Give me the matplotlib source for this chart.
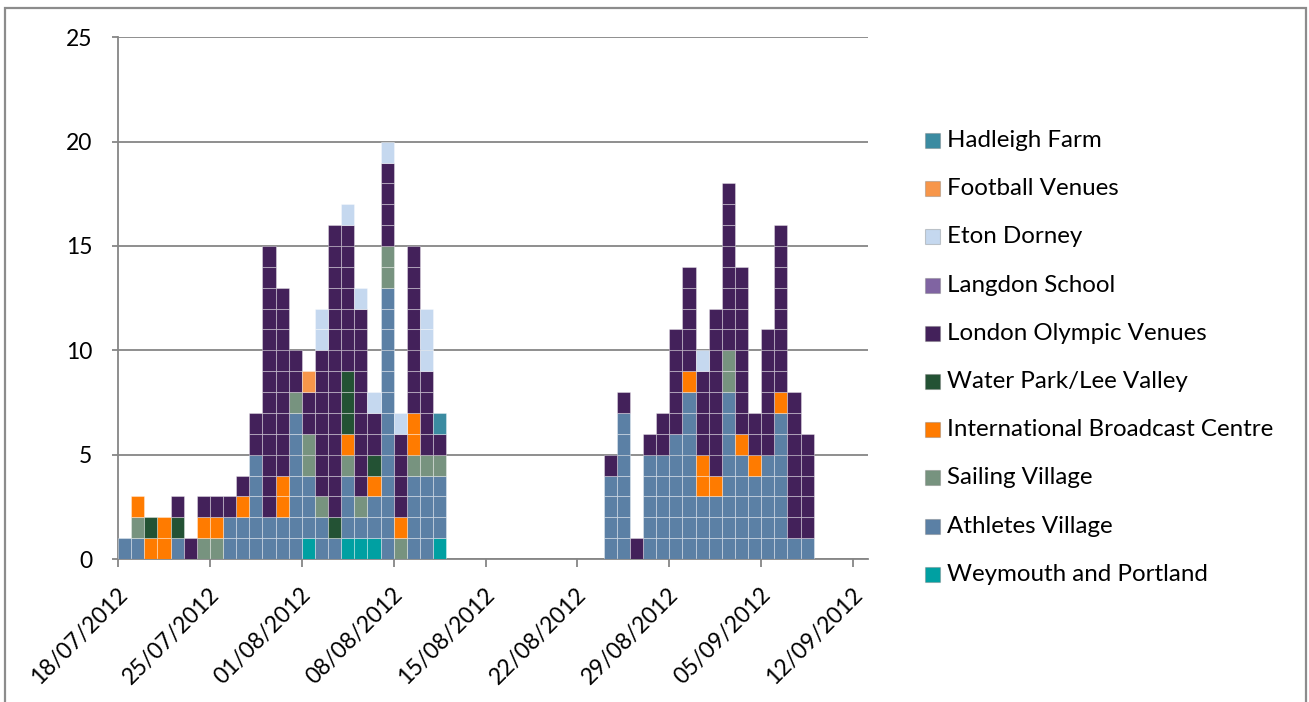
import numpy as np
import matplotlib
matplotlib.use("Agg")
import matplotlib.pyplot as plt
from matplotlib.patches import Rectangle
from matplotlib.transforms import ScaledTranslation

plt.rcParams['font.family'] = ['Lato', 'DejaVu Sans']

# daily incident counts, 18/07/2012 .. 09/09/2012 (53 days)
gap = [0] * 12
weymouth = [0, 0, 0, 0, 0, 0, 0, 0, 0, 0, 0, 0, 0, 0, 1, 0, 0, 1, 1, 1, 0, 0, 0, 0, 1] + gap + [0] * 16
athletes = [1, 1, 0, 0, 1, 0, 0, 0, 2, 2, 5, 2, 2, 7, 3, 2, 1, 3, 1, 2, 13, 0, 4, 4, 3] + gap + \
           [4, 7, 0, 5, 5, 6, 8, 3, 3, 8, 5, 4, 5, 7, 1, 1]
sailing = [0, 1, 0, 0, 0, 0, 1, 1, 0, 0, 0, 0, 0, 1, 2, 1, 0, 1, 1, 0, 2, 1, 1, 1, 1] + gap + \
          [0, 0, 0, 0, 0, 0, 0, 0, 0, 2, 0, 0, 0, 0, 0, 0]
ibc = [0, 1, 1, 2, 0, 0, 1, 1, 0, 1, 0, 0, 2, 0, 0, 0, 0, 1, 0, 1, 0, 1, 2, 0, 0] + gap + \
      [0, 0, 0, 0, 0, 0, 1, 2, 1, 0, 1, 1, 0, 1, 0, 0]
water_park = [0, 0, 1, 0, 1, 0, 0, 0, 0, 0, 0, 0, 0, 0, 0, 0, 1, 3, 0, 1, 0, 0, 0, 0, 0] + gap + [0] * 16
london = [0, 0, 0, 0, 1, 1, 1, 1, 1, 1, 2, 13, 9, 2, 2, 7, 14, 7, 9, 2, 4, 4, 8, 4, 1] + gap + \
         [1, 1, 1, 1, 2, 5, 5, 4, 8, 8, 8, 2, 6, 8, 7, 5]
langdon = [0] * 25 + gap + [0] * 16
eton = [0, 0, 0, 0, 0, 0, 0, 0, 0, 0, 0, 0, 0, 0, 0, 2, 0, 1, 1, 1, 1, 1, 0, 3, 0] + gap + \
       [0, 0, 0, 0, 0, 0, 0, 1, 0, 0, 0, 0, 0, 0, 0, 0]
football = [0, 0, 0, 0, 0, 0, 0, 0, 0, 0, 0, 0, 0, 0, 1, 0, 0, 0, 0, 0, 0, 0, 0, 0, 0] + gap + [0] * 16
hadleigh = [0, 0, 0, 0, 0, 0, 0, 0, 0, 0, 0, 0, 0, 0, 0, 0, 0, 0, 0, 0, 0, 0, 0, 0, 1] + gap + [0] * 16

tick_days = [0, 7, 14, 21, 28, 35, 42, 49, 56]
tick_labels = ['18/07/2012', '25/07/2012', '01/08/2012', '08/08/2012', '15/08/2012',
               '22/08/2012', '29/08/2012', '05/09/2012', '12/09/2012']

# stacked bottom -> top
series = [
    ('Weymouth and Portland', weymouth, '#00A0A2'),
    ('Athletes Village', athletes, '#5B80A5'),
    ('Sailing Village', sailing, '#77937F'),
    ('International Broadcast Centre', ibc, '#FF7B00'),
    ('Water Park/Lee Valley', water_park, '#235234'),
    ('London Olympic Venues', london, '#43215A'),
    ('Langdon School', langdon, '#8064A2'),
    ('Eton Dorney', eton, '#C5D8EF'),
    ('Football Venues', football, '#F7964A'),
    ('Hadleigh Farm', hadleigh, '#3B8BA1'),
]

W, H = 1309, 702
fig = plt.figure(figsize=(W / 100, H / 100), dpi=100)
ax = fig.add_axes([118 / W, 1 - 559 / H, (868 - 118) / W, (559 - 37.3) / H])

grey = '#868686'
days = np.arange(len(athletes))
base = np.zeros(len(days))
for name, vals, col in series:
    vals = np.array(vals)
    # one cell per incident
    for k in range(vals.max()):
        m = vals > k
        ax.bar(days[m], 1, bottom=base[m] + k, width=1, align='edge', color=col,
               edgecolor=(1, 1, 1, 0.35), linewidth=0.75, zorder=3)
    base += vals

ax.set_xlim(0, 57.14)
ax.set_ylim(0, 25)
ax.set_yticks(range(0, 26, 5))
ax.yaxis.grid(True, color=grey, linewidth=1.3)
ax.set_axisbelow(True)
for s in ['top', 'right']:
    ax.spines[s].set_visible(False)
for s in ['left', 'bottom']:
    ax.spines[s].set_color(grey)
    ax.spines[s].set_linewidth(1.3)
ax.tick_params(axis='y', length=4.5, width=1.3, color=grey, pad=14, labelsize=16.5)
ax.tick_params(axis='x', length=5.5, width=1.3, color=grey, pad=18, labelsize=16.5)

ax.set_xticks(tick_days)
ax.set_xticklabels(tick_labels, rotation=45, ha='right', va='center', rotation_mode='anchor')
shift = ScaledTranslation(6 / 100, 0, fig.dpi_scale_trans)
for lab in ax.get_xticklabels():
    lab.set_transform(lab.get_transform() + shift)

# legend, top entry = last series
for i, (name, vals, col) in enumerate(reversed(series)):
    yc = 140.5 + i * 48.2
    fig.add_artist(Rectangle((925 / W, 1 - (yc + 7.5) / H), 15 / W, 15 / H,
                             transform=fig.transFigure, facecolor=col,
                             edgecolor=(0.45, 0.45, 0.45, 0.35), linewidth=0.8))
    fig.text(947 / W, 1 - yc / H, name, fontsize=17.4, va='center', ha='left')

# outer frame
fig.add_artist(Rectangle((5 / W, -0.05), 1301 / W, 1 - 8 / H + 0.05, transform=fig.transFigure,
                         fill=False, edgecolor='#8c8c8c', linewidth=1.6))

fig.savefig('out.png', dpi=100)
